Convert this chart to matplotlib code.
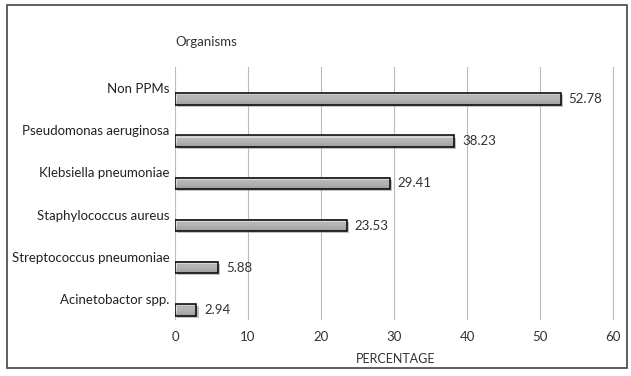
import matplotlib
matplotlib.use('Agg')
import matplotlib.pyplot as plt
import matplotlib.patheffects as pe
from matplotlib.patches import Rectangle
import numpy as np

organisms = ['Non PPMs', 'Pseudomonas aeruginosa', 'Klebsiella pneumoniae',
             'Staphylococcus aureus', 'Streptococcus pneumoniae', 'Acinetobactor spp.']
percentages = [52.78, 38.23, 29.41, 23.53, 5.88, 2.94]
x_ticks = [0, 10, 20, 30, 40, 50, 60]

plt.rcParams['font.family'] = ['Lato', 'DejaVu Sans']

fig = plt.figure(figsize=(6.31, 3.76), dpi=100)
ax = fig.add_axes([0.2773, 0.149, 0.7005, 0.673])

# outer frame round the whole chart
fig.patches.append(Rectangle((0.011, 0.021), 0.983, 0.965, transform=fig.transFigure,
                             fill=False, edgecolor='#444444', linewidth=1.2))

# bar sits in the lower half of each category band
offset = 0.26
height = 0.27
ypos = np.arange(len(organisms))

# silver gradient for the bars (top -> bottom)
grad = np.array([0.80, 0.86, 0.89, 0.87, 0.82, 0.75, 0.66]).reshape(-1, 1)

bars = ax.barh(ypos + offset, percentages, height=height, facecolor='none',
               edgecolor='black', linewidth=1.1, zorder=4)
for b in bars:
    b.set_path_effects([pe.SimplePatchShadow(offset=(1.5, -1.5), shadow_rgbFace='#999999',
                                             alpha=0.6), pe.Normal()])
    x0, y0 = b.get_x(), b.get_y()
    w, h = b.get_width(), b.get_height()
    ax.imshow(grad, cmap='gray', vmin=0, vmax=1, aspect='auto',
              extent=(x0, x0 + w, y0 + h, y0), zorder=3, interpolation='bicubic')

for y, v in zip(ypos, percentages):
    ax.text(v + 1.1, y + offset, f'{v:.2f}', va='center', ha='left',
            fontsize=9.5, color='#333333')

ax.set_yticks(ypos)
ax.set_yticklabels(organisms, fontsize=9.5, color='#222222')
ax.set_ylim(len(organisms) - 0.5, -0.5)
ax.set_xlim(0, 60.5)
ax.set_xticks(x_ticks)
ax.set_xticklabels([str(t) for t in x_ticks], fontsize=9.5, color='#333333')
ax.tick_params(length=0, pad=8)
ax.tick_params(axis='y', pad=4)

ax.grid(axis='x', color='#bbbbbb', linewidth=0.8, zorder=0)
ax.set_axisbelow(True)
for s in ax.spines.values():
    s.set_visible(False)

ax.set_xlabel('PERCENTAGE', fontsize=9, color='#333333', labelpad=7)
ax.set_title('Organisms', fontsize=9.5, loc='left', color='#333333', pad=15)

fig.savefig('out.png', dpi=100)
